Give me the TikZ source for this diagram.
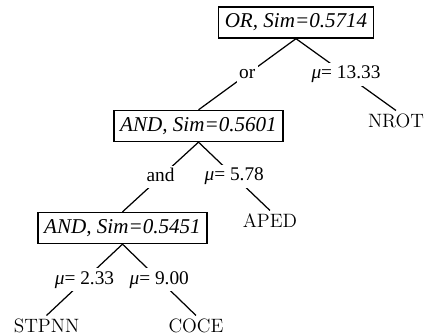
\documentclass[tikz,border=0pt]{standalone}
\usepackage{fontspec}
\newfontfamily\timesfont{Liberation Serif}
\usepackage{tikz}
\usetikzlibrary{positioning}

\begin{document}
\begin{tikzpicture}[
    x=0.02cm, y=-0.02cm,
    box/.style={rectangle, draw, line width=0.8pt, inner xsep=3.5pt,
                minimum height=17.6pt,
                font=\timesfont\itshape\fontsize{12}{14}\selectfont},
    leaf/.style={anchor=north, inner sep=1.5pt,
                 font=\fontsize{11}{13}\selectfont},
    lbl/.style={midway, fill=white, inner xsep=1.5pt, inner ysep=2pt,
                text height=7pt, text depth=2pt,
                font=\timesfont\fontsize{11}{13}\selectfont},
    edge/.style={line width=0.7pt}
  ]
    \useasboundingbox (0,0) rectangle (424,335);

    \node[box] (or)   at (296,22.5) {OR, Sim=0.5714};
    \node[box] (and1) at (198.5,126) {AND, Sim=0.5601};
    \node[box] (and2) at (122.5,228) {AND, Sim=0.5451};

    \node[leaf] (nrot)  at (396,110.5) {NROT};
    \node[leaf] (aped)  at (270,210.5) {APED};
    \node[leaf] (stpnn) at (46.5,315.5) {STPNN};
    \node[leaf] (coce)  at (196,315.5) {COCE};

    \draw[edge] (or.south)   -- (and1.north) node[lbl] {or};
    \draw[edge] (or.south)   -- (nrot.north) node[lbl] {{\itshape μ}= 13.33};
    \draw[edge] (and1.south) -- (and2.north) node[lbl] {and};
    \draw[edge] (and1.south) -- (aped.north) node[lbl] {{\itshape μ}= 5.78};
    \draw[edge] (and2.south) -- (stpnn.north) node[lbl] {{\itshape μ}= 2.33};
    \draw[edge] (and2.south) -- (coce.north) node[lbl] {{\itshape μ}= 9.00};
  \end{tikzpicture}
\end{document}
